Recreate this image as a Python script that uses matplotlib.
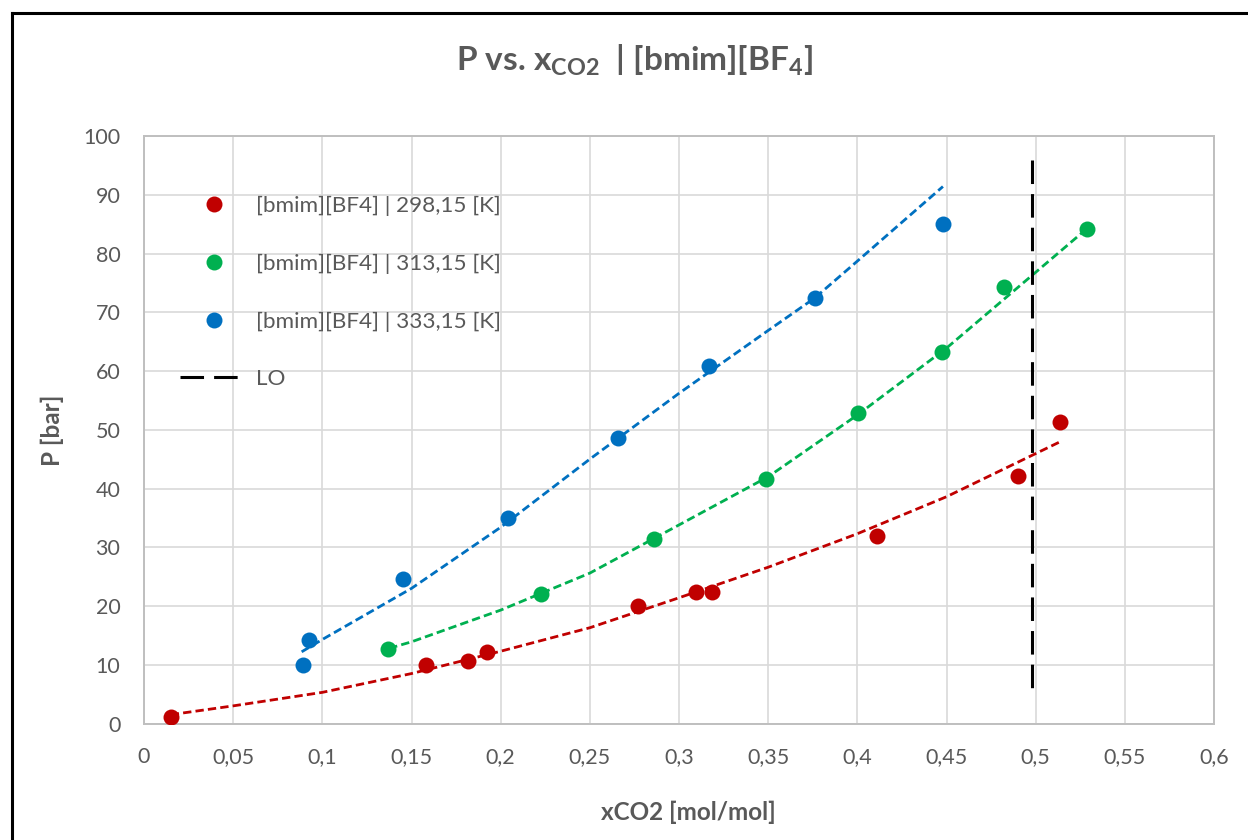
import matplotlib
matplotlib.use('Agg')
import matplotlib.pyplot as plt
from matplotlib.lines import Line2D

# ---------------- data ----------------
red_x = [0.0150, 0.1580, 0.1819, 0.1925, 0.2768, 0.3098, 0.3186, 0.4112, 0.4901, 0.5137]
red_p = [1.1, 10.0, 10.6, 12.1, 20.0, 22.3, 22.3, 31.9, 42.1, 51.3]

green_x = [0.1366, 0.2226, 0.2860, 0.3487, 0.4004, 0.4475, 0.4824, 0.5290]
green_p = [12.7, 22.0, 31.4, 41.7, 52.8, 63.2, 74.3, 84.1]

blue_x = [0.0893, 0.0927, 0.1454, 0.2043, 0.2658, 0.3168, 0.3763, 0.4482]
blue_p = [10.0, 14.2, 24.6, 35.0, 48.6, 60.9, 72.4, 85.0]

# dashed trend / model curves
red_fit_x = [0.015, 0.05, 0.10, 0.15, 0.20, 0.25, 0.30, 0.35, 0.40, 0.45, 0.514]
red_fit_p = [1.5, 3.0, 5.3, 8.5, 12.3, 16.3, 21.4, 26.6, 32.3, 38.6, 48.0]

green_fit_x = [0.1375, 0.15, 0.20, 0.25, 0.30, 0.35, 0.40, 0.45, 0.50, 0.529]
green_fit_p = [12.8, 13.9, 19.3, 25.6, 33.8, 42.0, 52.5, 63.9, 76.8, 84.3]

blue_fit_x = [0.0884, 0.10, 0.15, 0.20, 0.25, 0.30, 0.35, 0.376, 0.40, 0.448]
blue_fit_p = [12.2, 14.3, 23.0, 33.4, 45.0, 56.2, 66.9, 72.4, 78.7, 91.4]

lo_x = [0.498, 0.498]
lo_p = [96.0, 4.8]

labels = ["[bmim][BF4] | 298,15 [K]", "[bmim][BF4] | 313,15 [K]",
          "[bmim][BF4] | 333,15 [K]", "LO"]
x_ticks = [0, 0.05, 0.1, 0.15, 0.2, 0.25, 0.3, 0.35, 0.4, 0.45, 0.5, 0.55, 0.6]
x_ticklabels = ["0", "0,05", "0,1", "0,15", "0,2", "0,25", "0,3", "0,35",
                "0,4", "0,45", "0,5", "0,55", "0,6"]
y_ticks = [0, 10, 20, 30, 40, 50, 60, 70, 80, 90, 100]

# ---------------- style ----------------
plt.rcParams['font.family'] = ['Lato', 'DejaVu Sans']
plt.rcParams['mathtext.fontset'] = 'custom'
plt.rcParams['mathtext.rm'] = 'Lato'
plt.rcParams['mathtext.bf'] = 'Lato:bold'

RED, GREEN, BLUE = '#C00000', '#00B050', '#0070C0'
TXT = '#595959'

W, H = 1248, 840
fig = plt.figure(figsize=(W / 100, H / 100), dpi=100)
fig.patch.set_facecolor('white')
ax = fig.add_axes([144 / W, 1 - 723.5 / H, (1214 - 144) / W, (723.5 - 136) / H])

ms = 11.5
fit_lw = 2.0
fit_ls = (0, (3.0, 1.5))

ax.plot(red_fit_x, red_fit_p, color=RED, lw=fit_lw, ls=fit_ls, zorder=3)
ax.plot(green_fit_x, green_fit_p, color=GREEN, lw=fit_lw, ls=fit_ls, zorder=3)
ax.plot(blue_fit_x, blue_fit_p, color=BLUE, lw=fit_lw, ls=fit_ls, zorder=3)

h1, = ax.plot(red_x, red_p, 'o', color=RED, ms=ms, mec='none', zorder=4)
h2, = ax.plot(green_x, green_p, 'o', color=GREEN, ms=ms, mec='none', zorder=4)
h3, = ax.plot(blue_x, blue_p, 'o', color=BLUE, ms=ms, mec='none', zorder=4)
h4, = ax.plot(lo_x, lo_p, color='black', lw=2.2, ls=(0, (7.7, 3.3)), zorder=5)

ax.set_xlim(0, 0.6)
ax.set_ylim(0, 100)
ax.set_xticks(x_ticks)
ax.set_xticklabels(x_ticklabels)
ax.set_yticks(y_ticks)
ax.grid(True, color='#D9D9D9', lw=1.2, zorder=0)
ax.set_axisbelow(True)
for s in ax.spines.values():
    s.set_color('#BFBFBF')
    s.set_linewidth(1.4)
ax.tick_params(length=0, labelsize=15.5, labelcolor=TXT, pad=17)

fig.text(52 / W, 1 - 430 / H, "P [bar]", rotation=90, ha='center', va='center',
         fontsize=17.5, fontweight='bold', color=TXT)
fig.text(688 / W, 1 - 812 / H, "xCO2 [mol/mol]", ha='center', va='center',
         fontsize=17.5, fontweight='bold', color=TXT)
fig.text(634 / W, 1 - 60 / H,
         r"P vs. x$_{\mathbf{CO2}}$  | [bmim][BF$_{\mathbf{4}}$]",
         ha='center', va='center', fontsize=24, fontweight='bold', color=TXT)

leg = fig.legend([h1, h2, h3, h4], labels, loc='upper left',
                 bbox_to_anchor=(180 / W, 1 - 196 / H), frameon=False,
                 fontsize=16.2, handlelength=3.0, handletextpad=0.4,
                 labelspacing=1.67, borderpad=0, borderaxespad=0, numpoints=1)
for t in leg.get_texts():
    t.set_color(TXT)

# outer chart frame (left and top edges visible)
fig.add_artist(Line2D([11.5 / W, 11.5 / W], [0, 1 - 13 / H], color='black', lw=2.2))
fig.add_artist(Line2D([11.5 / W, 1], [1 - 13 / H, 1 - 13 / H], color='black', lw=2.2))

fig.savefig('out.png', dpi=100, facecolor='white')
